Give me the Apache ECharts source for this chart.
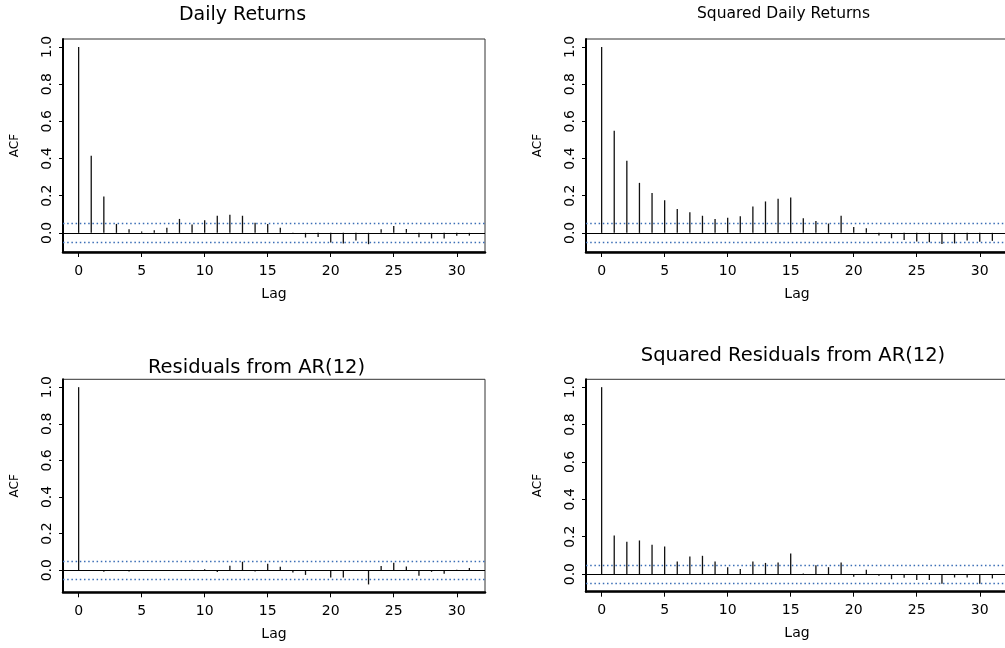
<!DOCTYPE html>
<html>
<head>
<meta charset="utf-8">
<script src="https://cdn.jsdelivr.net/npm/echarts@6/dist/echarts.min.js"></script>
<style>
html,body{margin:0;padding:0;background:#fff;}
#chart{width:1005px;height:648px;}
</style>
</head>
<body>
<div id="chart"></div>
<script>
// ---- data ----
const lags = [0,1,2,3,4,5,6,7,8,9,10,11,12,13,14,15,16,17,18,19,20,21,22,23,24,25,26,27,28,29,30,31];
const xTicks = [0,5,10,15,20,25,30];
const yTicks = [0,0.2,0.4,0.6,0.8,1.0];
const panelTitles = ['Daily Returns','Squared Daily Returns','Residuals from AR(12)','Squared Residuals from AR(12)'];
const acfReturns = [1.0,0.415,0.196,0.048,0.020,0.007,0.014,0.027,0.075,0.045,0.068,0.092,0.097,0.092,0.054,0.048,0.028,-0.004,-0.025,-0.022,-0.052,-0.057,-0.041,-0.061,0.019,0.037,0.021,-0.023,-0.030,-0.030,-0.016,-0.015];
const acfSqReturns = [1.0,0.549,0.388,0.269,0.214,0.176,0.129,0.111,0.092,0.075,0.081,0.090,0.142,0.169,0.183,0.190,0.079,0.064,0.050,0.092,0.031,0.025,-0.014,-0.029,-0.038,-0.046,-0.051,-0.060,-0.057,-0.041,-0.048,-0.043];
const acfResid = [1.0,-0.004,-0.009,-0.002,-0.007,-0.005,-0.004,-0.002,-0.002,0.002,0.005,-0.010,0.024,0.046,-0.007,0.035,0.018,-0.013,-0.026,-0.005,-0.040,-0.040,-0.005,-0.078,0.023,0.041,0.020,-0.031,-0.009,-0.020,0.002,0.012];
const acfSqResid = [1.0,0.206,0.173,0.180,0.157,0.148,0.068,0.094,0.098,0.068,0.037,0.027,0.068,0.060,0.062,0.110,0.003,0.048,0.037,0.062,-0.014,0.023,-0.009,-0.027,-0.020,-0.032,-0.032,-0.052,-0.018,-0.018,-0.052,-0.023];
const ciBound = 0.049;

// ---- layout ----
const FONT = 'DejaVu Sans';
const panels = [
  {values: acfReturns,   grid:{left:63, top:39,    width:422, height:213},   ymin:-0.103, ymax:1.043, title:{x:242.5, y:6,   size:19}},
  {values: acfSqReturns, grid:{left:586, top:39,   width:422, height:213},   ymin:-0.103, ymax:1.043, title:{x:783.5, y:5.5, size:15.5}},
  {values: acfResid,     grid:{left:63, top:379.3, width:422, height:213},   ymin:-0.121, ymax:1.043, title:{x:256.5, y:358, size:19.5}},
  {values: acfSqResid,   grid:{left:586, top:379.3, width:422, height:212.4}, ymin:-0.094, ymax:1.042, title:{x:793,  y:346, size:19.5}}
];

const option = {
  animation: false,
  backgroundColor: '#fff',
  title: [], grid: [], xAxis: [], yAxis: [], series: []
};

panels.forEach((p, i) => {
  option.title.push({
    text: panelTitles[i], left: p.title.x, top: p.title.y, padding: 0,
    textAlign: 'center',
    textStyle: {fontFamily: FONT, fontSize: p.title.size, fontWeight: 'normal', color: '#000'}
  });
  option.grid.push(Object.assign({
    show: true, borderColor: '#333', borderWidth: 1, backgroundColor: 'transparent',
    containLabel: false, outerBoundsMode: 'none'
  }, p.grid));
  option.xAxis.push({
    type: 'value', gridIndex: i, min: -1.24, max: 32.24,
    name: 'Lag', nameLocation: 'middle', nameGap: 35,
    nameTextStyle: {fontFamily: FONT, fontSize: 14, color: '#000'},
    axisLine: {show: true, onZero: false, lineStyle: {color: '#000', width: 2.5}},
    axisTick: {show: true, length: 5, lineStyle: {color: '#000', width: 1}, customValues: xTicks},
    axisLabel: {show: true, margin: 12, fontFamily: FONT, fontSize: 14, color: '#000', customValues: xTicks,
      formatter: v => String(Math.round(v))},
    splitLine: {show: false}
  });
  option.yAxis.push({
    type: 'value', gridIndex: i, min: p.ymin, max: p.ymax,
    name: 'ACF', nameLocation: 'middle', nameGap: 42,
    nameTextStyle: {fontFamily: FONT, fontSize: 12, color: '#000'},
    axisLine: {show: true, onZero: false, lineStyle: {color: '#000', width: 2}},
    axisTick: {show: true, length: 4, lineStyle: {color: '#000', width: 1}, customValues: yTicks},
    axisLabel: {show: true, rotate: 90, margin: 9, fontFamily: FONT, fontSize: 14, color: '#000', customValues: yTicks,
      formatter: v => v.toFixed(1)},
    splitLine: {show: false}
  });
  option.series.push({
    type: 'bar', xAxisIndex: i, yAxisIndex: i,
    barWidth: 1.3,
    itemStyle: {color: '#111'},
    data: lags.map((l, k) => [l, p.values[k]]),
    silent: true,
    markLine: {
      silent: true, symbol: ['none', 'none'], label: {show: false},
      data: [
        {yAxis: 0, lineStyle: {color: '#000', width: 1.2, type: 'solid'}},
        {yAxis: ciBound, lineStyle: {color: '#3a6db5', width: 1.3, type: [1.5, 2.7]}},
        {yAxis: -ciBound, lineStyle: {color: '#3a6db5', width: 1.3, type: [1.5, 2.7]}}
      ]
    }
  });
});

const chart = echarts.init(document.getElementById('chart'), null, {renderer: 'canvas'});
chart.setOption(option);
</script>
</body>
</html>
